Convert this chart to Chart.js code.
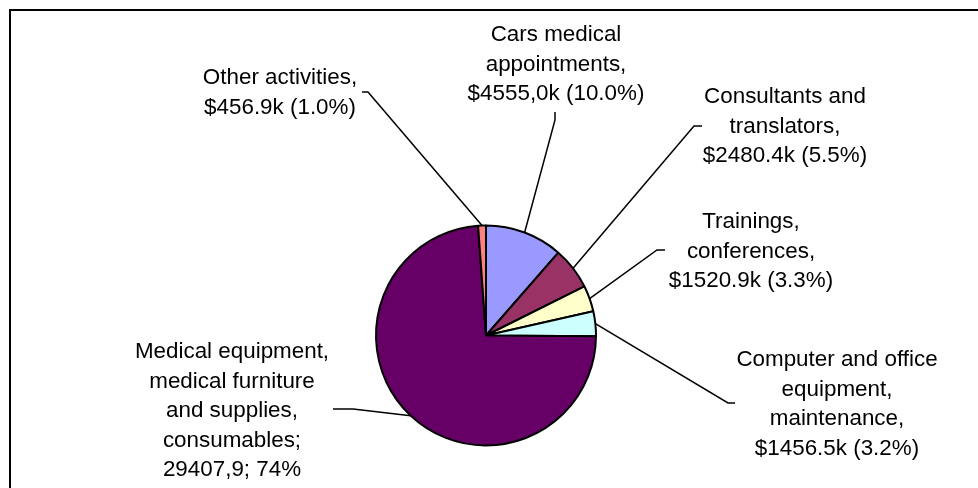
<!DOCTYPE html>
<html>
<head>
<meta charset="utf-8">
<script src="https://cdn.jsdelivr.net/npm/chart.js@4/dist/chart.umd.min.js"></script>
<style>
  html, body { margin: 0; padding: 0; background: #ffffff; }
  #wrap { position: relative; width: 978px; height: 488px; }
</style>
</head>
<body>
<div id="wrap"><canvas id="c"></canvas></div>
<script>
// ---- data ----
const categories = [
  "Cars medical appointments",
  "Consultants and translators",
  "Trainings, conferences",
  "Computer and office equipment, maintenance",
  "Medical equipment, medical furniture and supplies, consumables",
  "Other activities"
];
const values = [4555.0, 2480.4, 1520.9, 1456.5, 29407.9, 456.9];
const labelLines = [
  ["Cars medical", "appointments,", "$4555,0k (10.0%)"],
  ["Consultants and", "translators,", "$2480.4k (5.5%)"],
  ["Trainings,", "conferences,", "$1520.9k (3.3%)"],
  ["Computer and office", "equipment,", "maintenance,", "$1456.5k (3.2%)"],
  ["Medical equipment,", "medical furniture", "and supplies,", "consumables;", "29407,9; 74%"],
  ["Other activities,", "$456.9k (1.0%)"]
];
const colors = ["#9999FF", "#993366", "#FFFFCC", "#CCFFFF", "#660066", "#FF8080"];

// ---- label layout (position of each data label and its leader line) ----
// cx: text centre x, cy: first line centre y, a: leader anchor at label, t: tick end
const labelLayout = [
  { cx: 556, cy: 35,  a: [555, 112], t: [555, 120] },
  { cx: 785, cy: 97,  a: [702, 126], t: [694, 126] },
  { cx: 751, cy: 222, a: [665, 250], t: [657, 250] },
  { cx: 837, cy: 360, a: [735, 403], t: [728, 403] },
  { cx: 232, cy: 352, a: [333, 409], t: [353, 409] },
  { cx: 280, cy: 78,  a: [362, 92],  t: [368, 92] }
];
const LINE_H = 29.5;
const FONT = '22.4px "Liberation Sans", Arial, sans-serif';

const framePlugin = {
  id: 'frame',
  beforeDraw(chart) {
    const ctx = chart.ctx;
    ctx.save();
    ctx.strokeStyle = '#000';
    ctx.lineWidth = 2;
    ctx.strokeRect(10, 10, 1200, 1200);
    ctx.restore();
  }
};

const labelPlugin = {
  id: 'pieLabels',
  afterDatasetsDraw(chart) {
    const ctx = chart.ctx;
    const meta = chart.getDatasetMeta(0);
    ctx.save();
    meta.data.forEach((arc, i) => {
      const p = arc.getProps(['x', 'y', 'startAngle', 'endAngle', 'outerRadius'], true);
      const mid = (p.startAngle + p.endAngle) / 2;
      const ex = p.x + Math.cos(mid) * p.outerRadius;
      const ey = p.y + Math.sin(mid) * p.outerRadius;
      const L = labelLayout[i];
      ctx.strokeStyle = '#000';
      ctx.lineWidth = 1.5;
      ctx.beginPath();
      ctx.moveTo(L.a[0], L.a[1]);
      ctx.lineTo(L.t[0], L.t[1]);
      ctx.lineTo(ex, ey);
      ctx.stroke();
      ctx.fillStyle = '#000';
      ctx.font = FONT;
      ctx.textAlign = 'center';
      ctx.textBaseline = 'middle';
      labelLines[i].forEach((ln, k) => {
        ctx.fillText(ln, L.cx, L.cy + k * LINE_H);
      });
    });
    ctx.restore();
  }
};

new Chart(document.getElementById('c'), {
  type: 'pie',
  data: {
    labels: categories,
    datasets: [{
      data: values,
      backgroundColor: colors,
      borderColor: '#000000',
      borderWidth: 2,
      radius: 110
    }]
  },
  options: {
    responsive: true,
    maintainAspectRatio: false,
    animation: false,
    events: [],
    layout: { padding: { left: 375, right: 381, top: 224.5, bottom: 41.5 } },
    plugins: {
      legend: { display: false },
      tooltip: { enabled: false },
      title: { display: false }
    }
  },
  plugins: [framePlugin, labelPlugin]
});
</script>
</body>
</html>
